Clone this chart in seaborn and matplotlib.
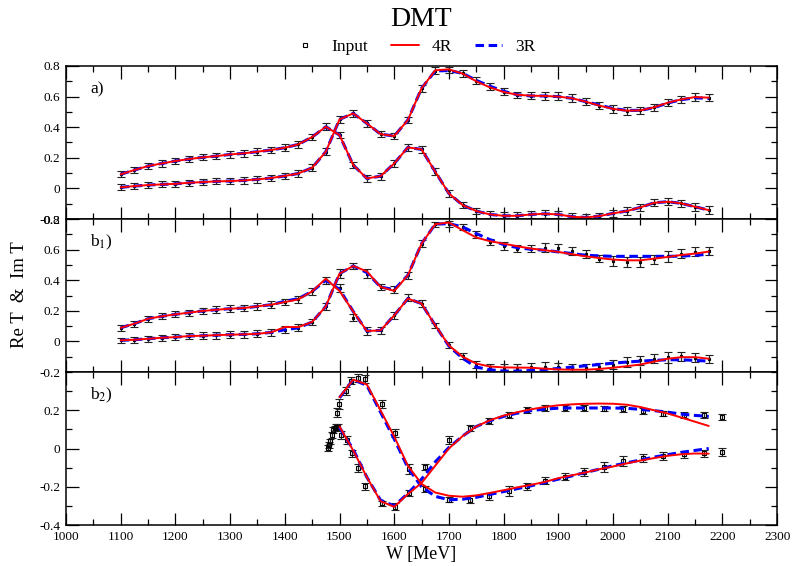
import numpy as np
import pandas as pd
import matplotlib
matplotlib.use("Agg")
import matplotlib.pyplot as plt
from matplotlib.lines import Line2D
from matplotlib.ticker import MultipleLocator, FixedLocator, FuncFormatter
import seaborn as sns

# ---------------- data ----------------
W_grid = [1100, 1125, 1150, 1175, 1200, 1225, 1250, 1275, 1300, 1325, 1350,
          1375, 1400, 1425, 1450, 1475, 1500, 1525, 1550, 1575, 1600, 1625,
          1650, 1675, 1700, 1725, 1750, 1775, 1800, 1825, 1850, 1875, 1900,
          1925, 1950, 1975, 2000, 2025, 2050, 2075, 2100, 2125, 2150, 2175]

# panel a)
a_A = [0.007, 0.015, 0.022, 0.026, 0.030, 0.037, 0.041, 0.046, 0.048, 0.052, 0.059,
       0.068, 0.081, 0.098, 0.135, 0.240, 0.451, 0.490, 0.425, 0.355, 0.342,
       0.447, 0.654, 0.770, 0.774, 0.752, 0.704, 0.665, 0.632, 0.610, 0.606, 0.606,
       0.602, 0.589, 0.567, 0.541, 0.517, 0.506, 0.510, 0.530, 0.560, 0.582, 0.597, 0.593]
a_B = [0.092, 0.120, 0.146, 0.163, 0.179, 0.192, 0.203, 0.211, 0.222, 0.229, 0.240,
       0.251, 0.266, 0.288, 0.336, 0.403, 0.349, 0.153, 0.065, 0.080, 0.163,
       0.268, 0.255, 0.109, -0.033, -0.109, -0.148, -0.170, -0.179, -0.179, -0.170, -0.166,
       -0.170, -0.185, -0.190, -0.181, -0.163, -0.148, -0.124, -0.094, -0.087, -0.098, -0.120, -0.142]
a_err = [0.02, 0.02, 0.02, 0.02, 0.02, 0.02, 0.02, 0.02, 0.022, 0.022, 0.022,
         0.022, 0.022, 0.022, 0.022, 0.022, 0.022, 0.022, 0.022, 0.022, 0.02,
         0.022, 0.022, 0.022, 0.022, 0.022, 0.022, 0.022, 0.022, 0.022, 0.022, 0.025,
         0.025, 0.025, 0.022, 0.022, 0.025, 0.025, 0.022, 0.022, 0.022, 0.022, 0.025, 0.025]
a_A_4R = [0.007, 0.015, 0.022, 0.026, 0.030, 0.037, 0.041, 0.046, 0.048, 0.052, 0.059,
          0.068, 0.081, 0.098, 0.135, 0.240, 0.451, 0.490, 0.425, 0.355, 0.342,
          0.447, 0.654, 0.772, 0.778, 0.750, 0.700, 0.660, 0.630, 0.612, 0.606, 0.604,
          0.600, 0.589, 0.567, 0.541, 0.520, 0.508, 0.510, 0.530, 0.560, 0.582, 0.597, 0.593]
a_A_3R = [0.007, 0.015, 0.022, 0.026, 0.030, 0.037, 0.041, 0.046, 0.048, 0.052, 0.059,
          0.068, 0.081, 0.098, 0.135, 0.240, 0.451, 0.490, 0.425, 0.355, 0.342,
          0.447, 0.654, 0.768, 0.770, 0.752, 0.706, 0.668, 0.635, 0.612, 0.604, 0.604,
          0.600, 0.589, 0.567, 0.545, 0.522, 0.510, 0.510, 0.528, 0.558, 0.580, 0.592, 0.588]
a_B_4R = a_B
a_B_3R = a_B

# panel b1)
b1_A = [0.007, 0.011, 0.017, 0.024, 0.028, 0.035, 0.037, 0.041, 0.044, 0.046, 0.050,
        0.059, 0.076, 0.089, 0.127, 0.229, 0.443, 0.493, 0.443, 0.356, 0.338,
        0.432, 0.639, 0.766, 0.770, 0.748, 0.700, 0.650, 0.622, 0.607, 0.607, 0.613,
        0.611, 0.591, 0.570, 0.541, 0.526, 0.519, 0.519, 0.537, 0.556, 0.574, 0.585, 0.591]
b1_B = [0.089, 0.116, 0.148, 0.164, 0.177, 0.188, 0.199, 0.207, 0.214, 0.218, 0.229,
        0.240, 0.257, 0.275, 0.327, 0.400, 0.349, 0.155, 0.068, 0.072, 0.170,
        0.286, 0.247, 0.105, -0.026, -0.096, -0.151, -0.168, -0.172, -0.172, -0.168, -0.164,
        -0.168, -0.172, -0.172, -0.164, -0.151, -0.135, -0.124, -0.113, -0.103, -0.098, -0.107, -0.113]
b1_err = [0.018, 0.02, 0.02, 0.02, 0.02, 0.02, 0.022, 0.022, 0.022, 0.022, 0.022,
          0.022, 0.022, 0.022, 0.022, 0.022, 0.028, 0.022, 0.028, 0.022, 0.022,
          0.022, 0.022, 0.015, 0.02, 0.02, 0.022, 0.022, 0.025, 0.025, 0.025, 0.028,
          0.028, 0.025, 0.025, 0.025, 0.03, 0.03, 0.03, 0.03, 0.035, 0.03, 0.03, 0.025]
b1_A_4R = [0.007, 0.011, 0.017, 0.024, 0.028, 0.035, 0.037, 0.041, 0.044, 0.046, 0.050,
           0.059, 0.094, 0.094, 0.127, 0.229, 0.443, 0.493, 0.458, 0.356, 0.330,
           0.432, 0.639, 0.766, 0.777, 0.727, 0.679, 0.655, 0.639, 0.622, 0.607, 0.596,
           0.585, 0.570, 0.556, 0.545, 0.535, 0.530, 0.530, 0.541, 0.552, 0.565, 0.574, 0.587]
b1_A_3R = [0.007, 0.011, 0.017, 0.024, 0.028, 0.035, 0.037, 0.041, 0.044, 0.046, 0.050,
           0.059, 0.076, 0.089, 0.127, 0.229, 0.443, 0.493, 0.450, 0.356, 0.338,
           0.432, 0.639, 0.766, 0.770, 0.748, 0.705, 0.665, 0.633, 0.613, 0.602, 0.596,
           0.585, 0.574, 0.563, 0.559, 0.556, 0.556, 0.556, 0.556, 0.556, 0.557, 0.563, 0.570]
b1_B_4R = [0.089, 0.116, 0.148, 0.164, 0.177, 0.188, 0.199, 0.207, 0.214, 0.218, 0.229,
           0.240, 0.257, 0.275, 0.327, 0.410, 0.330, 0.196, 0.068, 0.072, 0.170,
           0.280, 0.247, 0.105, -0.026, -0.100, -0.145, -0.164, -0.170, -0.171, -0.172, -0.178,
           -0.183, -0.185, -0.185, -0.180, -0.172, -0.162, -0.151, -0.132, -0.113, -0.103, -0.103, -0.113]
b1_B_3R = [0.089, 0.116, 0.148, 0.164, 0.177, 0.188, 0.199, 0.207, 0.214, 0.218, 0.229,
           0.240, 0.262, 0.280, 0.327, 0.400, 0.340, 0.196, 0.068, 0.072, 0.170,
           0.280, 0.247, 0.105, -0.030, -0.110, -0.168, -0.185, -0.194, -0.194, -0.190, -0.183,
           -0.177, -0.168, -0.159, -0.151, -0.142, -0.135, -0.129, -0.124, -0.120, -0.120, -0.124, -0.129]

# panel b2)
b2_W_P = [1495, 1499, 1511, 1521, 1533, 1547, 1578, 1602, 1627, 1656, 1700, 1739, 1774,
          1809, 1842, 1875, 1912, 1947, 1983, 2018, 2055, 2091, 2130, 2166, 2199]
b2_P = [0.188, 0.234, 0.300, 0.355, 0.370, 0.365, 0.234, 0.080, -0.108, -0.210, -0.267,
        -0.267, -0.250, -0.222, -0.198, -0.168, -0.147, -0.122, -0.096, -0.065, -0.051,
        -0.039, -0.031, -0.026, -0.017]
b2_P_err = [0.025, 0.025, 0.02, 0.02, 0.02, 0.02, 0.02, 0.02, 0.025, 0.015, 0.015, 0.02,
            0.02, 0.025, 0.02, 0.02, 0.02, 0.02, 0.025, 0.025, 0.02, 0.02, 0.02, 0.02, 0.02]
b2_W_Q = [1479.6, 1481, 1482.6, 1485.7, 1488.7, 1491, 1493, 1497, 1503, 1514, 1522, 1533,
          1547, 1578, 1602, 1627, 1656, 1700, 1739, 1774, 1809, 1842, 1875, 1912, 1947,
          1983, 2018, 2055, 2091, 2130, 2166, 2199]
b2_Q = [0.003, 0.020, 0.037, 0.072, 0.097, 0.105, 0.114, 0.114, 0.072, 0.046, -0.026,
        -0.103, -0.198, -0.287, -0.304, -0.232, -0.096, 0.043, 0.106, 0.144, 0.174, 0.203,
        0.212, 0.212, 0.212, 0.209, 0.205, 0.195, 0.183, 0.174, 0.174, 0.166]
b2_Q_err = [0.015, 0.015, 0.015, 0.015, 0.015, 0.015, 0.015, 0.015, 0.02, 0.02, 0.02, 0.02,
            0.02, 0.015, 0.02, 0.015, 0.015, 0.02, 0.015, 0.015, 0.015, 0.015, 0.015, 0.015,
            0.015, 0.015, 0.015, 0.015, 0.015, 0.015, 0.015, 0.015]

W_fit_b2 = [1500, 1525, 1550, 1575, 1600, 1625, 1650, 1675, 1700, 1725, 1750, 1775, 1800,
            1825, 1850, 1875, 1900, 1925, 1950, 1975, 2000, 2025, 2050, 2075, 2100, 2125,
            2150, 2175]
b2_P_4R = [0.268, 0.360, 0.335, 0.200, 0.063, -0.090, -0.185, -0.230, -0.247, -0.252, -0.245,
           -0.232, -0.218, -0.203, -0.190, -0.175, -0.155, -0.140, -0.125, -0.108, -0.094,
           -0.078, -0.063, -0.050, -0.038, -0.030, -0.026, -0.027]
b2_Q_4R = [0.115, -0.010, -0.150, -0.275, -0.305, -0.238, -0.180, -0.090, 0.000, 0.065, 0.115,
           0.148, 0.172, 0.190, 0.205, 0.217, 0.226, 0.231, 0.234, 0.235, 0.234, 0.229, 0.217,
           0.200, 0.183, 0.162, 0.140, 0.118]
b2_P_3R = [0.265, 0.360, 0.330, 0.190, 0.050, -0.100, -0.200, -0.250, -0.268, -0.265, -0.255,
           -0.240, -0.225, -0.210, -0.195, -0.178, -0.160, -0.143, -0.125, -0.108, -0.090,
           -0.075, -0.060, -0.045, -0.032, -0.020, -0.010, 0.000]
b2_Q_3R = [0.110, -0.005, -0.150, -0.270, -0.300, -0.235, -0.160, -0.070, 0.005, 0.065, 0.115,
           0.145, 0.168, 0.185, 0.198, 0.206, 0.211, 0.212, 0.212, 0.212, 0.212, 0.210, 0.205,
           0.198, 0.190, 0.180, 0.173, 0.168]

x_ticks = [1000, 1100, 1200, 1300, 1400, 1500, 1600, 1700, 1800, 1900, 2000, 2100, 2200, 2300]
panel_labels = ["a)", "b$_1$)", "b$_2$)"]

# ---------------- style ----------------
sns.set_theme(style="ticks")
plt.rcParams["font.family"] = ["Liberation Serif", "DejaVu Serif"]
plt.rcParams["mathtext.fontset"] = "stix"
plt.rcParams["axes.edgecolor"] = "black"
plt.rcParams["xtick.color"] = "black"
plt.rcParams["ytick.color"] = "black"
plt.rcParams["text.color"] = "black"

RED = "#ff0000"
BLUE = "#0000ff"
DASH = (0, (2.8, 1.5))
RED_LW = 1.4
BLUE_LW = 2.2

fig, axes = plt.subplots(3, 1, figsize=(7.93, 5.66), dpi=100, sharex=True,
                         gridspec_kw=dict(hspace=0))
fig.subplots_adjust(left=0.0832, right=0.980, top=0.8834, bottom=0.0724)


def data_points(ax, x, y, err, ms):
    ax.errorbar(x, y, yerr=err, fmt="s", ms=ms, mfc="none", mec="black", mew=0.8,
                ecolor="#222222", elinewidth=0.9, capsize=2.6, capthick=0.9, zorder=2)


def fit(ax, x, y, kind):
    if kind == "4R":
        sns.lineplot(x=x, y=y, ax=ax, color=RED, linewidth=RED_LW, estimator=None,
                     sort=False, zorder=4, legend=False)
    else:
        sns.lineplot(x=x, y=y, ax=ax, color=BLUE, linewidth=BLUE_LW, linestyle=DASH,
                     estimator=None, sort=False, zorder=3, legend=False)


ax_a, ax_b1, ax_b2 = axes

for A, B, e, A4, B4, A3, B3, ax in [
        (a_A, a_B, a_err, a_A_4R, a_B_4R, a_A_3R, a_B_3R, ax_a),
        (b1_A, b1_B, b1_err, b1_A_4R, b1_B_4R, b1_A_3R, b1_B_3R, ax_b1)]:
    data_points(ax, W_grid, A, e, 1.5)
    data_points(ax, W_grid, B, e, 1.5)
    fit(ax, W_grid, A3, "3R")
    fit(ax, W_grid, B3, "3R")
    fit(ax, W_grid, A4, "4R")
    fit(ax, W_grid, B4, "4R")

data_points(ax_b2, b2_W_P, b2_P, b2_P_err, 3.0)
data_points(ax_b2, b2_W_Q, b2_Q, b2_Q_err, 3.0)
fit(ax_b2, W_fit_b2, b2_P_3R, "3R")
fit(ax_b2, W_fit_b2, b2_Q_3R, "3R")
fit(ax_b2, W_fit_b2, b2_P_4R, "4R")
fit(ax_b2, W_fit_b2, b2_Q_4R, "4R")

fmt = FuncFormatter(lambda v, p: "0" if abs(v) < 1e-9 else f"{v:g}")

for i, ax in enumerate(axes):
    ax.set_xlim(1000, 2300)
    ax.xaxis.set_major_locator(FixedLocator(x_ticks))
    ax.xaxis.set_minor_locator(MultipleLocator(50))
    ax.yaxis.set_minor_locator(MultipleLocator(0.1))
    ax.yaxis.set_major_formatter(fmt)
    ax.tick_params(which="both", direction="in", top=True, right=True, width=0.9,
                   labelsize=9.5, pad=4)
    ax.tick_params(which="major", length=9)
    ax.tick_params(which="minor", length=4.5)
    for s in ax.spines.values():
        s.set_linewidth(1.1)
        s.set_color("black")
    ax.set_xlabel("")
    ax.set_ylabel("")
    ax.text(0.034, 0.85, panel_labels[i], transform=ax.transAxes, fontsize=12.5,
            ha="left", va="center")

ax_a.set_ylim(-0.2, 0.8)
ax_a.yaxis.set_major_locator(MultipleLocator(0.2))
ax_b1.set_ylim(-0.2, 0.8)
ax_b1.yaxis.set_major_locator(MultipleLocator(0.2))
ax_b2.set_ylim(-0.4, 0.4)
ax_b2.yaxis.set_major_locator(FixedLocator([-0.4, -0.2, 0.0, 0.2]))
ax_b2.xaxis.set_major_formatter(FuncFormatter(lambda v, p: f"{v:.0f}"))

fig.text(0.5315, 0.966, "DMT", ha="center", va="center", fontsize=20)
fig.text(0.5315, 0.021, "W [MeV]", ha="center", va="center", fontsize=13)
fig.text(0.024, 0.479, "Re T  &  Im T", ha="center", va="center", rotation=90,
         fontsize=13.5)

handles = [
    Line2D([], [], marker="s", ms=3.0, mfc="none", mec="black", mew=0.8, linestyle="none"),
    Line2D([], [], color=RED, linewidth=RED_LW),
    Line2D([], [], color=BLUE, linewidth=BLUE_LW, linestyle=DASH),
]
fig.legend(handles, ["Input", "4R", "3R"], loc="center", bbox_to_anchor=(0.521, 0.917),
           ncol=3, frameon=False, fontsize=12.5, handlelength=1.6, handletextpad=0.75,
           columnspacing=1.3)

fig.savefig("out.png", dpi=100)
